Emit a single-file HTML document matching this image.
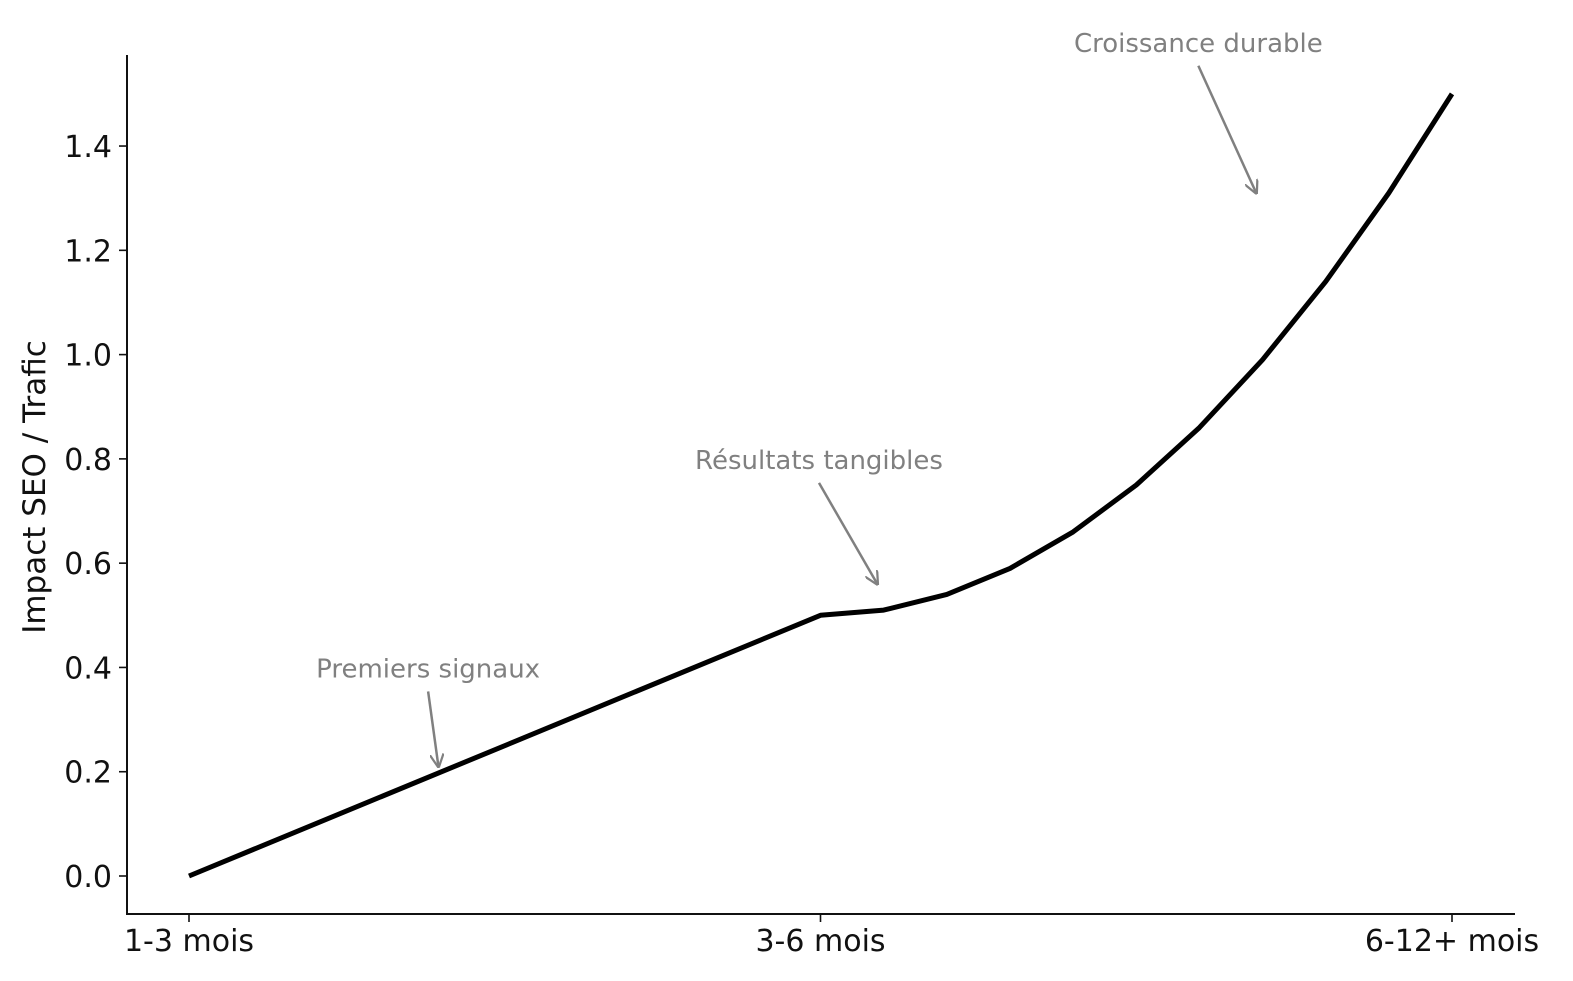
<!DOCTYPE html>
<html><head><meta charset="utf-8"><style>body{margin:0;background:#fff}svg{display:block}</style></head>
<body>
<svg id="chart" width="1573" height="981" xmlns="http://www.w3.org/2000/svg" font-family="'DejaVu Sans','Liberation Sans',sans-serif">
<g id="axes"></g>
<g id="marks"></g>
<text transform="translate(45,487) rotate(-90)" text-anchor="middle" font-size="31" fill="#111">Impact SEO / Trafic</text>
<defs><marker id="ah" viewBox="0 0 10 10" refX="9" refY="5" markerWidth="14" markerHeight="14" markerUnits="userSpaceOnUse" orient="auto"><path d="M0,0 L10,5 L0,10" fill="none" stroke="#808080" stroke-width="1.6"/></marker></defs>
</svg>
<script>
const categories = ["1-3 mois","3-6 mois","6-12+ mois"];
const xValues = [0,1,1.1,1.2,1.3,1.4,1.5,1.6,1.7,1.8,1.9,2];
const yValues = [0,0.5,0.51,0.54,0.59,0.66,0.75,0.86,0.99,1.14,1.31,1.5];
const yTicks = [0,0.2,0.4,0.6,0.8,1.0,1.2,1.4];
const annotations = [
 {text:"Premiers signaux", tx:0.1, ty:0.4, ax:0.395, ay:0.21},
 {text:"Résultats tangibles", tx:0.7, ty:0.8, ax:1.09, ay:0.56},
 {text:"Croissance durable", tx:1.3, ty:1.6, ax:1.69, ay:1.31}
];
const NS="http://www.w3.org/2000/svg";
const sx=v=>189+v*631.5;
const sy=v=>876-v*521.4;
function mk(tag,attrs,parent,txt){const e=document.createElementNS(NS,tag);for(const k in attrs)e.setAttribute(k,attrs[k]);if(txt!==undefined)e.textContent=txt;parent.appendChild(e);return e;}
const axes=document.getElementById('axes'), marks=document.getElementById('marks');
let e=mk('line',{x1:127,y1:55,x2:127,y2:915,stroke:'#111','stroke-width':2},axes);


e=mk('line',{x1:126,y1:914,x2:1515,y2:914,stroke:'#111','stroke-width':2},axes);


yTicks.forEach(t=>{
 const y=sy(t);
 let l=mk('line',{x1:119,y1:y,x2:127,y2:y,stroke:'#111','stroke-width':1.6},axes);
 
 
 let tx=mk('text',{x:112,y:y+11,'text-anchor':'end','font-size':30,fill:'#111'},axes,t.toFixed(1));
 
 
});
categories.forEach((c,i)=>{
 const x=sx(i);
 let l=mk('line',{x1:x,y1:914,x2:x,y2:922,stroke:'#111','stroke-width':1.6},axes);
 
 
 let tx=mk('text',{x:x,y:951,'text-anchor':'middle','font-size':30,fill:'#111'},axes,c);
 
 
});
const d=xValues.map((v,i)=>(i?'L':'M')+sx(v).toFixed(1)+','+sy(yValues[i]).toFixed(1)).join(' ');
let p=mk('path',{d:d,fill:'none',stroke:'#000','stroke-width':5,'stroke-linejoin':'round'},marks);


annotations.forEach(a=>{
 const tx=sx(a.tx), ty=sy(a.ty);
 let t=mk('text',{x:tx+64,y:ty+10,'font-size':26,fill:'#808080'},marks,a.text);
 
 
 const w=t.getComputedTextLength?t.getComputedTextLength():230;
 const cx=tx+64+w/2;
 let ar=mk('line',{x1:cx,y1:ty+24,x2:sx(a.ax),y2:sy(a.ay),stroke:'#808080','stroke-width':2.5,'marker-end':'url(#ah)'},marks);
 
 
});
</script>
</body></html>
